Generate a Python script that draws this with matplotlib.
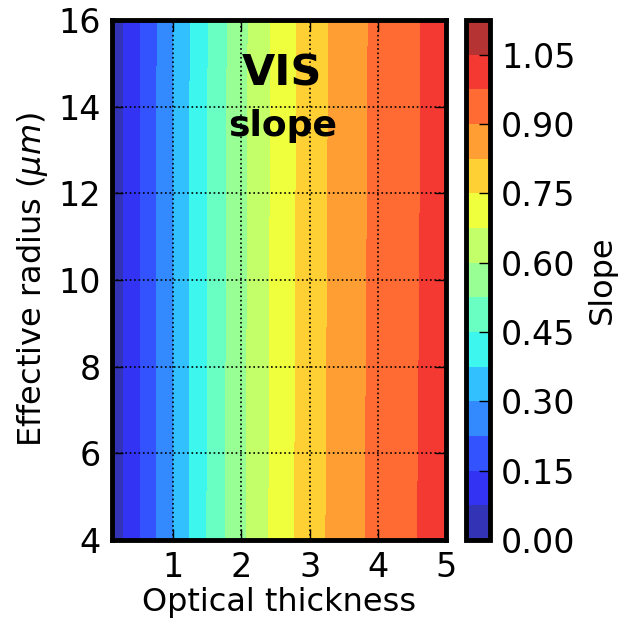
import numpy as np
import matplotlib
matplotlib.use('Agg')
import matplotlib.pyplot as plt
from matplotlib.colors import ListedColormap

# optical thickness grid and effective radius grid
tau = [0.1, 0.25, 0.5, 0.75, 1.0, 1.25, 1.5, 1.75, 2.0, 2.25, 2.5, 2.75, 3.0, 3.5, 4.0, 4.5, 5.0]
reff = [4, 10, 16]

# slope values, one row per effective radius
slope_r4 = [0.023, 0.068, 0.142, 0.226, 0.300, 0.380, 0.452, 0.522, 0.584, 0.642, 0.697, 0.745, 0.790, 0.864, 0.922, 0.968, 1.012]
slope_r10 = [0.023, 0.068, 0.142, 0.223, 0.300, 0.378, 0.450, 0.518, 0.581, 0.638, 0.694, 0.742, 0.787, 0.861, 0.919, 0.965, 1.010]
slope_r16 = [0.023, 0.068, 0.142, 0.221, 0.300, 0.376, 0.447, 0.515, 0.578, 0.635, 0.692, 0.740, 0.784, 0.858, 0.917, 0.963, 1.009]

levels = np.arange(0, 1.126, 0.075)
cbar_ticks = [0.00, 0.15, 0.30, 0.45, 0.60, 0.75, 0.90, 1.05]

# jet faded towards white (looks like alpha=0.8)
jet = plt.get_cmap('jet')(np.linspace(0, 1, 256))
jet[:, :3] = 0.8 * jet[:, :3] + 0.2
cmap = ListedColormap(jet)

Z = np.array([slope_r4, slope_r10, slope_r16])
X, Y = np.meshgrid(tau, reff)

fig = plt.figure(figsize=(6.18, 6.2), dpi=100)
ax = fig.add_axes([0.181, 0.129, 0.541, 0.839])
cax = fig.add_axes([0.754, 0.129, 0.039, 0.839])

cs = ax.contourf(X, Y, Z, levels=levels, cmap=cmap)
ax.set_xlim(0.1, 5)
ax.set_ylim(4, 16)
ax.set_xticks([1, 2, 3, 4, 5])
ax.set_yticks([4, 6, 8, 10, 12, 14, 16])
ax.grid(True, color='black', linestyle=':', linewidth=1.2)
ax.tick_params(direction='in', length=8, width=1, top=True, right=True, labelsize=24, pad=8)
for s in ax.spines.values():
    s.set_linewidth(3.5)

ax.set_xlabel('Optical thickness', fontsize=23, labelpad=2)
ax.set_ylabel(r'Effective radius ($\mu m$)', fontsize=23, labelpad=6)

ax.text(2.6, 14.48, 'VIS', ha='center', va='baseline', fontsize=31, fontweight='bold')
ax.text(2.6, 13.32, 'slope', ha='center', va='baseline', fontsize=26, fontweight='bold')

cb = fig.colorbar(cs, cax=cax, ticks=cbar_ticks)
cb.ax.set_yticklabels(['%.2f' % t for t in cbar_ticks])
cb.ax.tick_params(direction='in', length=8, width=1, labelsize=24, pad=8)
cb.outline.set_linewidth(3.5)
cb.set_label('Slope', fontsize=23, labelpad=8)

plt.savefig('out.png', dpi=100)
